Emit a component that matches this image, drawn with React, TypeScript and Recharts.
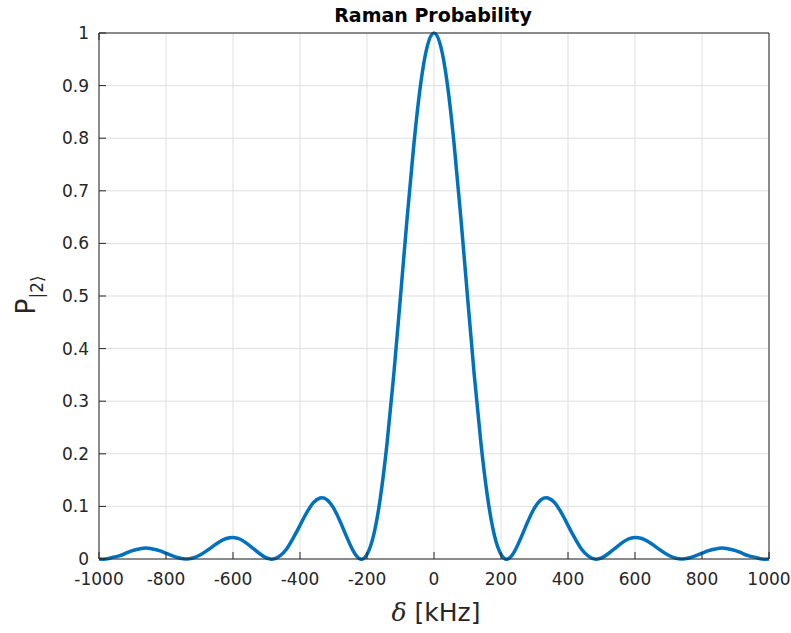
import { LineChart, Line, XAxis, YAxis, CartesianGrid } from 'recharts';

const DELTA_KHZ = [
    -1000, -980, -960, -940, -920, -900, -880, -860, -840, -820,
    -800, -780, -760, -740, -720, -700, -680, -660, -640, -620,
    -600, -580, -560, -540, -520, -500, -480, -460, -440, -420,
    -400, -380, -360, -340, -320, -300, -280, -260, -240, -220,
    -200, -180, -160, -140, -120, -100, -80, -60, -40, -20,
    0,
    20, 40, 60, 80, 100, 120, 140, 160, 180, 200,
    220, 240, 260, 280, 300, 320, 340, 360, 380, 400,
    420, 440, 460, 480, 500, 520, 540, 560, 580, 600,
    620, 640, 660, 680, 700, 720, 740, 760, 780, 800,
    820, 840, 860, 880, 900, 920, 940, 960, 980, 1000,
];

const P_STATE2 = [
    0.000, 0.000, 0.003, 0.006, 0.011, 0.016, 0.019, 0.021, 0.019, 0.016,
    0.011, 0.006, 0.002, 0.000, 0.002, 0.007, 0.015, 0.024, 0.033, 0.039,
    0.041, 0.038, 0.030, 0.020, 0.010, 0.002, 0.000, 0.006, 0.019, 0.040,
    0.064, 0.088, 0.107, 0.116, 0.113, 0.097, 0.071, 0.041, 0.014, 0.000,
    0.009, 0.046, 0.117, 0.221, 0.351, 0.499, 0.650, 0.789, 0.902, 0.975,
    1.000,
    0.975, 0.902, 0.789, 0.650, 0.499, 0.351, 0.221, 0.117, 0.046, 0.009,
    0.000, 0.014, 0.041, 0.071, 0.097, 0.113, 0.116, 0.107, 0.088, 0.064,
    0.040, 0.019, 0.006, 0.000, 0.002, 0.010, 0.020, 0.030, 0.038, 0.041,
    0.039, 0.033, 0.024, 0.015, 0.007, 0.002, 0.000, 0.002, 0.006, 0.011,
    0.016, 0.019, 0.021, 0.019, 0.016, 0.011, 0.006, 0.003, 0.000, 0.000,
];

const X_TICKS = [-1000, -800, -600, -400, -200, 0, 200, 400, 600, 800, 1000];
const Y_TICKS = [0, 0.1, 0.2, 0.3, 0.4, 0.5, 0.6, 0.7, 0.8, 0.9, 1];

const TITLE = 'Raman Probability';
const X_LABEL = '[kHz]';

const INK = '#262626';
const FONT = '"DejaVu Sans", sans-serif';

const data = DELTA_KHZ.map((d, i) => ({ delta: d, p: P_STATE2[i] }));

// mirrored box axes: tick lines only, no labels
const noTick = () => <g />;

export default function App() {
    return (
        <div style={{ position: 'absolute', left: 0, top: 0, width: 791, height: 633, background: '#fff' }}>
            <LineChart
                width={791}
                height={633}
                data={data}
                margin={{ top: 32, right: 21, left: 0, bottom: 0 }}
            >
                <CartesianGrid stroke="#dfdfdf" strokeWidth={1} />
                <XAxis
                    dataKey="delta"
                    type="number"
                    domain={[-1000, 1000]}
                    ticks={X_TICKS}
                    interval={0}
                    height={74}
                    stroke={INK}
                    tickSize={-7}
                    tickMargin={21}
                    tick={{ fill: INK, fontSize: 17, fontFamily: FONT }}
                    label={{
                        content: () => (
                            <text x={436} y={621} textAnchor="middle" fill={INK} fontSize={25} fontFamily={FONT}>
                                <tspan fontFamily='"DejaVu Serif", serif' fontStyle="italic">δ</tspan>
                                <tspan> {X_LABEL}</tspan>
                            </text>
                        ),
                    }}
                />
                <XAxis
                    xAxisId="top"
                    orientation="top"
                    type="number"
                    domain={[-1000, 1000]}
                    ticks={X_TICKS}
                    interval={0}
                    height={1}
                    stroke={INK}
                    tickSize={-7}
                    tick={noTick}
                    label={{
                        content: () => (
                            <text x={433} y={22} textAnchor="middle" fill="#000" fontSize={19} fontWeight="bold" fontFamily={FONT}>
                                {TITLE}
                            </text>
                        ),
                    }}
                />
                <YAxis
                    type="number"
                    domain={[0, 1]}
                    ticks={Y_TICKS}
                    interval={0}
                    width={99}
                    stroke={INK}
                    tickSize={-7}
                    tickMargin={17}
                    tick={{ fill: INK, fontSize: 17, fontFamily: FONT }}
                    label={{
                        content: () => (
                            <text transform="translate(35,295) rotate(-90)" textAnchor="middle" fill={INK} fontFamily={FONT}>
                                <tspan fontSize={27}>P</tspan>
                                <tspan fontSize={17} dy={8}>|2⟩</tspan>
                            </text>
                        ),
                    }}
                />
                <YAxis
                    yAxisId="right"
                    orientation="right"
                    type="number"
                    domain={[0, 1]}
                    ticks={Y_TICKS}
                    interval={0}
                    width={1}
                    stroke={INK}
                    tickSize={-7}
                    tick={noTick}
                />
                <Line
                    type="natural"
                    dataKey="p"
                    stroke="#0072BD"
                    strokeWidth={3.5}
                    dot={false}
                    activeDot={false}
                    isAnimationActive={false}
                />
            </LineChart>
        </div>
    );
}
